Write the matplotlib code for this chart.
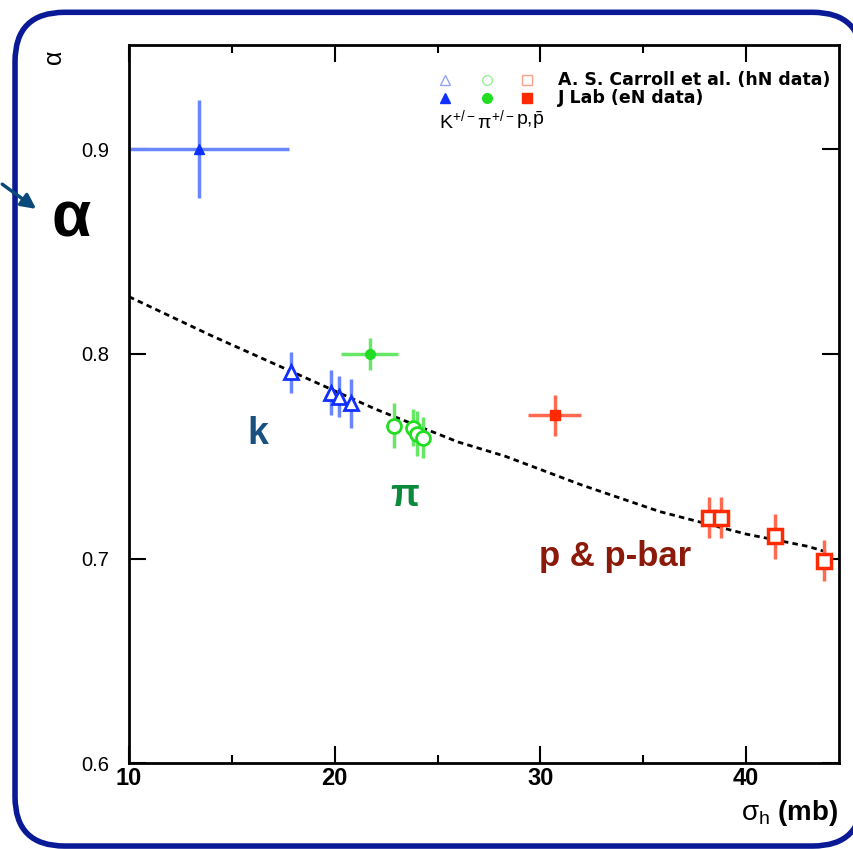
import numpy as np
import matplotlib.pyplot as plt
from matplotlib.patches import FancyBboxPatch, FancyArrowPatch

plt.rcParams['font.family'] = ['Liberation Sans', 'DejaVu Sans']
plt.rcParams['mathtext.fontset'] = 'custom'
plt.rcParams['mathtext.rm'] = 'Liberation Sans'
plt.rcParams['mathtext.it'] = 'Liberation Sans'

# JLab (eN data)
jlab_x = [13.4, 21.7, 30.7]
jlab_y = [0.900, 0.800, 0.770]
jlab_xerr = [4.4, 1.4, 1.3]
jlab_yerr = [0.024, 0.008, 0.010]

# A. S. Carroll et al. (hN data)
k_x = [17.9, 19.8, 20.2, 20.8]
k_y = [0.791, 0.781, 0.779, 0.776]
k_yerr = [0.010, 0.011, 0.010, 0.012]

pi_x = [22.9, 23.8, 24.0, 24.3]
pi_y = [0.765, 0.764, 0.761, 0.759]
pi_yerr = [0.011, 0.009, 0.011, 0.010]

p_x = [38.2, 38.8, 41.4, 43.8]
p_y = [0.720, 0.720, 0.711, 0.699]
p_yerr = [0.010, 0.010, 0.011, 0.010]

# fit curve
fit_x = [10, 14, 18, 22, 26, 28.3, 32, 35.8, 40, 43, 44]
fit_y = [0.828, 0.809, 0.791, 0.773, 0.757, 0.750, 0.736, 0.723, 0.712, 0.706, 0.703]

blue, blue_e = '#1030ff', '#6a86ff'
green, green_e = '#22dd22', '#66e866'
red, red_e = '#ff2a00', '#ff6a50'

fig = plt.figure(figsize=(8.54, 8.49), dpi=100)
ax = fig.add_axes([0.151, 0.101, 0.831, 0.846])

ax.plot(fit_x, fit_y, color='black', ls=(0, (2, 1.5)), lw=2)

# Carroll open markers
ax.errorbar(k_x, k_y, yerr=k_yerr, fmt='^', ms=10, mfc='white', mec=blue, mew=2,
            ecolor=blue_e, elinewidth=2.5, capsize=0)
ax.errorbar(pi_x, pi_y, yerr=pi_yerr, fmt='o', ms=10, mfc='white', mec=green, mew=2,
            ecolor=green_e, elinewidth=2.5, capsize=0)
ax.errorbar(p_x, p_y, yerr=p_yerr, fmt='s', ms=10, mfc='white', mec=red, mew=2.5,
            ecolor=red_e, elinewidth=2.5, capsize=0)

# JLab filled markers
for x, y, xe, ye, c, ce, m in zip(jlab_x, jlab_y, jlab_xerr, jlab_yerr,
                                  [blue, green, red], [blue_e, green_e, red_e],
                                  ['^', 'o', 's']):
    ax.errorbar(x, y, xerr=xe, yerr=ye, fmt=m, ms=7, color=c, ecolor=ce,
                elinewidth=2.5, capsize=0)

ax.set_xlim(10, 44.5)
ax.set_ylim(0.6, 0.951)
ax.set_xticks([10, 20, 30, 40])
ax.set_xticks([15, 25, 35], minor=True)
ax.set_yticks([0.6, 0.7, 0.8, 0.9])
ax.set_yticklabels(['0.6', '0.7', '0.8', '0.9'])
ax.tick_params(which='both', direction='in', top=True, right=True)
ax.tick_params(which='major', length=12, width=1.5)
ax.tick_params(which='minor', length=6, width=1.5)
ax.tick_params(axis='x', labelsize=17, pad=3)
ax.tick_params(axis='y', labelsize=14.5, pad=14)
for lab in ax.get_xticklabels():
    lab.set_fontweight('bold')
for s in ax.spines.values():
    s.set_linewidth(2)

ax.text(1.0, -0.048, r'$\sigma_{\rm h}$ (mb)', transform=ax.transAxes,
        ha='right', va='top', fontsize=20, fontweight='bold')
fig.text(0.064, 0.932, r'$\alpha$', rotation=90, ha='center', va='center', fontsize=18)

# legend block
lx = [0.445, 0.504, 0.561]
mk = ['^', 'o', 's']
cc = [blue, green, red]
for xx, m, c in zip(lx, mk, cc):
    ax.plot(xx, 0.951, m, transform=ax.transAxes, ms=7, mfc='none', mec=c, mew=1, alpha=0.45)
    ax.plot(xx, 0.926, m, transform=ax.transAxes, ms=7, color=c)
ax.text(0.605, 0.951, 'A. S. Carroll et al. (hN data)', transform=ax.transAxes,
        va='center', fontsize=12.5, fontweight='bold', family='DejaVu Sans')
ax.text(0.605, 0.926, 'J Lab (eN data)', transform=ax.transAxes, va='center',
        fontsize=12.5, fontweight='bold', family='DejaVu Sans')
ax.text(0.437, 0.896, r'K$^{+/-}$', transform=ax.transAxes, va='center', fontsize=14)
ax.text(0.490, 0.896, r'$\pi^{+/-}$', transform=ax.transAxes, va='center', fontsize=14)
ax.text(0.545, 0.896, r'p,$\bar{\rm p}$', transform=ax.transAxes, va='center', fontsize=14)

# slide annotations
fig.text(0.302, 0.489, 'k', color='#1a5080', fontsize=27, fontweight='bold', ha='center', va='center')
fig.text(0.474, 0.416, 'π', color='#0a8a3a', fontsize=27, fontweight='bold', ha='center', va='center')
fig.text(0.72, 0.344, 'p & p-bar', color='#8b1a0a', fontsize=25, fontweight='bold', ha='center', va='center')
fig.text(0.083, 0.741, 'α', color='black', fontsize=46, fontweight='bold', ha='center', va='center')

arrow = FancyArrowPatch((0.0, 0.785), (0.045, 0.752), transform=fig.transFigure,
                        arrowstyle='-|>', mutation_scale=22, color='#0a4a7a', lw=2.5)
fig.patches.append(arrow)

# slide frame, partly running off the right edge
box = FancyBboxPatch((0.0176, 0.0035), 0.992, 0.982, transform=fig.transFigure,
                     boxstyle='round,pad=0,rounding_size=0.058', fc='white',
                     ec='#0a1a96', lw=4, zorder=-5)
fig.patches.append(box)

fig.savefig('out.png', dpi=100)
